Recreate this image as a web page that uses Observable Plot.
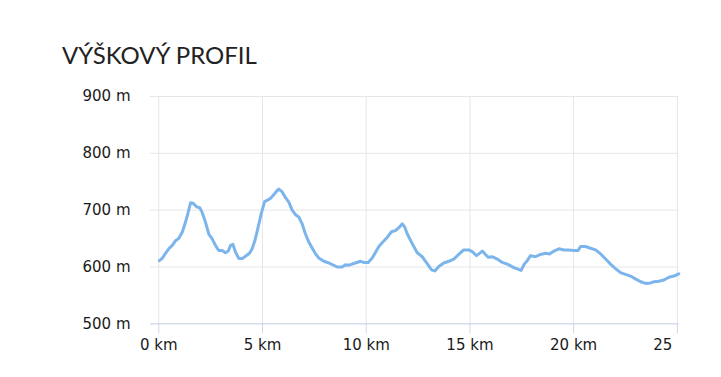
<!DOCTYPE html>
<html>
<head>
<meta charset="utf-8">
<script src="https://cdn.jsdelivr.net/npm/d3@7"></script>
<script src="https://cdn.jsdelivr.net/npm/@observablehq/plot@0.6"></script>
<style>
  html, body { margin: 0; padding: 0; background: #fff; width: 721px; height: 377px; overflow: hidden; }
  #title { position: absolute; left: 62px; top: 43px; font-family: Lato, sans-serif; font-size: 24px; line-height: 1; color: #222; font-weight: 400; white-space: nowrap; }
  #chart { position: absolute; left: 0; top: 80px; }
</style>
</head>
<body>
<div id="title">VÝŠKOVÝ PROFIL</div>
<div id="chart"></div>
<script>
const km = [0.03,0.16,0.32,0.48,0.65,0.8,0.96,1.13,1.29,1.4,1.53,1.66,1.82,1.98,2.09,2.25,2.41,2.57,2.73,2.89,3.06,3.21,3.35,3.46,3.57,3.7,3.86,4.02,4.18,4.37,4.5,4.63,4.77,4.94,5.1,5.26,5.42,5.58,5.74,5.79,5.95,6.11,6.27,6.43,6.59,6.75,6.91,7.07,7.23,7.4,7.56,7.71,7.96,8.2,8.44,8.6,8.84,9.0,9.08,9.24,9.48,9.73,9.88,10.1,10.29,10.45,10.61,10.8,11.01,11.22,11.41,11.6,11.74,11.86,11.98,12.22,12.46,12.7,12.94,13.15,13.31,13.5,13.74,13.98,14.22,14.46,14.7,14.95,15.11,15.32,15.43,15.6,15.75,15.88,16.07,16.32,16.56,16.8,17.12,17.47,17.62,17.76,17.92,18.16,18.4,18.65,18.84,19.05,19.29,19.53,19.77,20.01,20.22,20.33,20.57,20.81,21.06,21.3,21.54,21.78,22.02,22.26,22.5,22.74,22.98,23.23,23.47,23.71,23.87,24.11,24.35,24.59,24.83,25.07];
const elevation = [611,615,624,632,638,646,650,661,679,694,713,712,706,704,696,679,658,650,638,629,629,625,628,638,640,626,615,615,619,624,632,646,667,694,715,718,722,729,736,737,732,722,714,700,692,688,676,658,644,633,623,616,610,607,603,600,600,604,603,604,607,610,608,608,616,626,636,644,652,662,664,670,676,670,658,641,625,618,606,595,593,601,607,610,614,622,630,630,627,620,623,628,622,617,618,614,608,605,599,594,605,611,620,618,622,624,623,628,632,630,630,629,629,636,636,633,630,623,614,605,597,590,587,584,579,574,571,572,574,575,577,582,584,588];
const yTicks = [500, 600, 700, 800, 900];
const xTicks = [0, 5, 10, 15, 20, 25];

const data = km.map((k, i) => ({km: k, m: elevation[i]}));

const chart = Plot.plot({
  width: 721,
  height: 297,
  marginLeft: 150,
  marginRight: 42.7,
  marginTop: 16,
  marginBottom: 53.7,
  style: { fontFamily: "'DejaVu Sans', sans-serif", fontSize: "15px", background: "#fff", overflow: "visible" },
  x: { domain: [-0.4, 25.07] },
  y: { domain: [500, 900] },
  marks: [
    Plot.gridY(yTicks, { stroke: "#e6e6e6", strokeOpacity: 1 }),
    Plot.gridX(xTicks, { stroke: "#e6e6e6", strokeOpacity: 1 }),
    Plot.ruleY([500], { stroke: "#ccd6eb" }),
    Plot.axisX(xTicks, { tickSize: 10, tickFormat: () => "", color: "#ccd6eb", label: null }),
    Plot.axisX(xTicks.slice(0, -1), { tickSize: 0, tickPadding: 15.7, tickFormat: d => d + " km", color: "#1a1a1a", label: null }),
    Plot.axisX([25], { tickSize: 0, tickPadding: 15.7, tickFormat: d => String(d), textAnchor: "end", dx: -5, color: "#1a1a1a", label: null }),
    Plot.axisY(yTicks, { tickSize: 0, tickPadding: 20, tickFormat: d => d + " m", color: "#1a1a1a", label: null }),
    Plot.line(data, { x: "km", y: "m", stroke: "#7cb5ec", strokeWidth: 3, curve: "linear", strokeLinejoin: "round", strokeLinecap: "round" })
  ]
});
document.getElementById("chart").appendChild(chart);
</script>
</body>
</html>
